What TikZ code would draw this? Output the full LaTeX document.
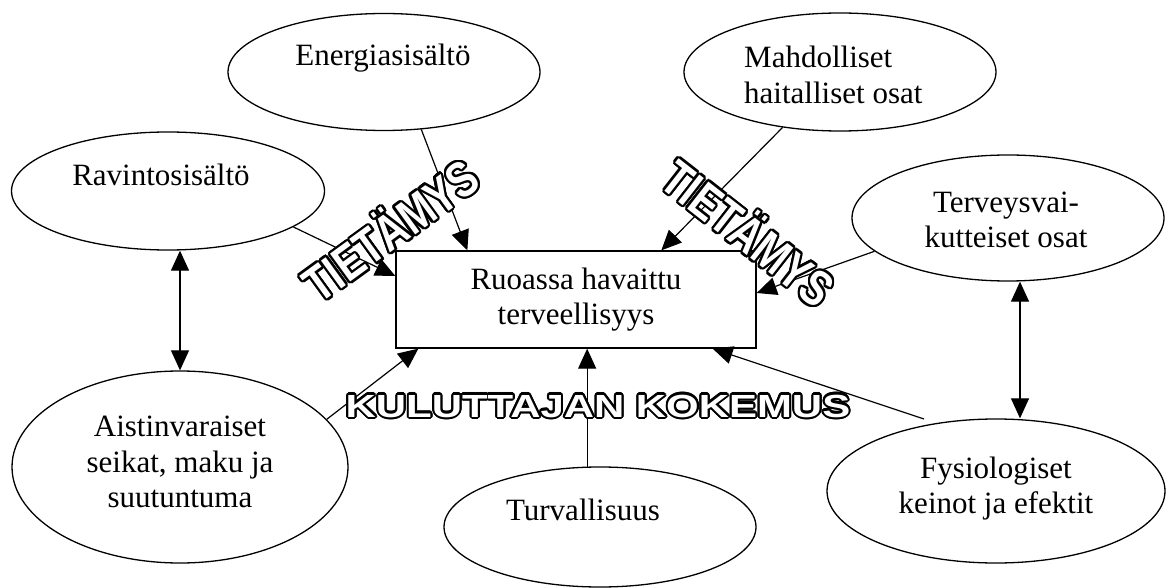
\documentclass[tikz,border=0pt]{standalone}
\usepackage{fontspec}
\usepackage{graphicx}
\setmainfont{Liberation Serif}
\newfontfamily\artfont{Liberation Sans}
\usetikzlibrary{arrows.meta,calc,shapes.geometric}

% Hollow display lettering: black copies around a ring, white copy on top
\newcommand\artword[5]{%
  \foreach \k in {0,20,...,340}
    \node[artglyph, rotate=#3, shift={(\k:#4)}] at (#2) {#5};
  \node[artglyph, rotate=#3, text=white] (#1) at (#2) {#5};
}

\begin{document}
\begin{tikzpicture}[x=1pt,y=-1pt,
  every node/.style={font=\fontsize{31}{35.5}\selectfont},
  bubble/.style={draw, ellipse, line width=1.3pt, inner sep=0pt},
  box/.style={draw, rectangle, line width=1.3pt, inner sep=0pt, align=center},
  lbl/.style={inner sep=0pt, align=center},
  link/.style={line width=1.2pt, -{Triangle[length=20pt,width=18pt]}},
  twoway/.style={line width=1.2pt, {Triangle[length=20pt,width=18pt]}-{Triangle[length=20pt,width=18pt]}},
  artglyph/.style={inner sep=0pt, text=black},
]
\useasboundingbox (0,0) rectangle (1170,588);

% central box
\node[box, minimum width=360pt, minimum height=97pt] (ruo) at (576,299.5) {Ruoassa havaittu\\terveellisyys};

% surrounding factors
\node[bubble, minimum width=312pt, minimum height=117pt] (ene) at (384,72) {};
\node[bubble, minimum width=312pt, minimum height=118pt] (hai) at (840,72) {};
\node[bubble, minimum width=313pt, minimum height=118pt] (rav) at (168,191) {};
\node[bubble, minimum width=312pt, minimum height=126pt] (ter) at (1008,218) {};
\node[bubble, minimum width=336pt, minimum height=192pt] (ais) at (180,467) {};
\node[bubble, minimum width=312pt, minimum height=120pt] (tur) at (600,527) {};
\node[bubble, minimum width=338pt, minimum height=144pt] (fys) at (996,491) {};

\node[lbl, anchor=base] (ene-t) at (383,66) {Energiasisältö};
\node[lbl, anchor=west, align=left] (hai-t) at (744,75) {Mahdolliset\\haitalliset osat};
\node[lbl, anchor=base] (rav-t) at (161,186) {Ravintosisältö};
\node[lbl] (ter-t) at (1006,220) {Terveysvai-\\kutteiset osat};
\node[lbl] (ais-t) at (180,462) {Aistinvaraiset\\seikat, maku ja\\suutuntuma};
\node[lbl, anchor=base] (tur-t) at (583,520) {Turvallisuus};
\node[lbl] (fys-t) at (996,488.5) {Fysiologiset\\keinot ja efektit};

% connectors
\draw[link] (ene.-57.5) -- ([xshift=72pt]ruo.north west);
\draw[link] (hai.-136) -- ([xshift=266pt]ruo.north west);
\draw[link] (rav.-16) -- ([yshift=23.5pt]ruo.west);
\draw[link] (ter.-166) -- ([yshift=6.5pt]ruo.east);
\draw[link] (ais.18.7) -- ([xshift=23pt]ruo.south west);
\draw[link] (tur.102.3) -- (tur.102.3 |- ruo.south);
\coordinate (fys-top) at ([xshift=-72pt,yshift=72pt]fys.center);
\draw[link] (fys-top) -- ([xshift=-44pt]ruo.south east);
\draw[twoway] (ais.north |- rav.south) -- (ais.north);
\draw[twoway] ([xshift=12pt]ter.south) -- ([xshift=12pt]ter.south |- fys.north);

% display lettering
\artword{know-l}{389,228}{36}{2.3pt}{\artfont\bfseries\fontsize{50}{50}\selectfont\scalebox{0.8}[1]{TIETÄMYS}}
\artword{know-r}{750,231}{-38}{2.3pt}{\artfont\bfseries\fontsize{50}{50}\selectfont\scalebox{0.8}[1]{TIETÄMYS}}
\artword{exper}{598,406}{0}{2.1pt}{\artfont\bfseries\fontsize{32}{32}\selectfont\scalebox{1.31}[1]{KULUTTAJAN KOKEMUS}}
\end{tikzpicture}
\end{document}
